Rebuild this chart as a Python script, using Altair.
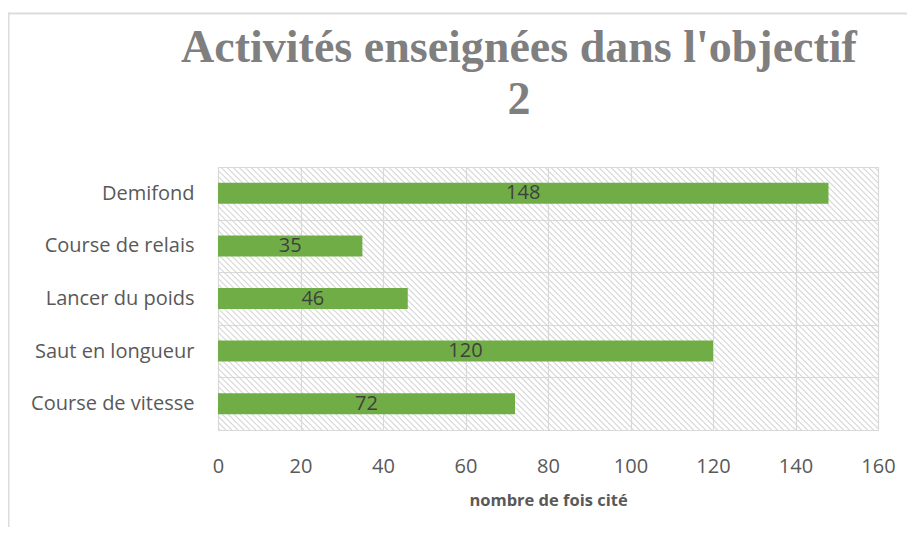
import altair as alt
import pandas as pd

# ---- data ----
categories = ["Demifond", "Course de relais", "Lancer du poids", "Saut en longueur", "Course de vitesse"]
values = [148, 35, 46, 120, 72]
x_ticks = [0, 20, 40, 60, 80, 100, 120, 140, 160]
title_lines = ["Activités enseignées dans l'objectif", "2"]
x_title = "nombre de fois cité"

df = pd.DataFrame({"activite": categories, "valeur": values})

W, H = 660, 263

base = alt.Chart(df)
one = pd.DataFrame({"k": [0]})

# ---- diagonal hatch of the plot background: one very wide dashed stroke, clipped ----
L = 560
hatch = alt.Chart(one).mark_rule(
    color="#d6d6d6", strokeWidth=1500, strokeDash=[1.1, 3.14], strokeCap="butt", clip=True
).encode(
    x=alt.value(W / 2 - L), y=alt.value(H / 2 + L), x2=alt.value(W / 2 + L), y2=alt.value(H / 2 - L)
)

bars = base.mark_bar(color="#70ad47", size=21).encode(
    x=alt.X(
        "valeur:Q",
        scale=alt.Scale(domain=[0, 160], nice=False),
        axis=alt.Axis(
            values=x_ticks,
            title=x_title,
            grid=True,
            ticks=False,
            domain=False,
            labelFlush=False,
            labelPadding=26,
            titlePadding=16,
        ),
    ),
    y=alt.Y(
        "activite:N",
        sort=categories,
        scale=alt.Scale(paddingInner=0, paddingOuter=0),
        axis=alt.Axis(
            title=None,
            grid=True,
            tickBand="extent",
            ticks=False,
            domain=False,
            labelPadding=24,
        ),
    ),
)

labels = base.transform_calculate(mid="datum.valeur / 2").mark_text(
    font="Open Sans", fontSize=20, color="#404040", align="center", baseline="middle"
).encode(
    x=alt.X("mid:Q", title=x_title),
    y=alt.Y("activite:N", sort=categories, title=None),
    text="valeur:Q",
)

title_mark = alt.Chart(one).mark_text(
    text=title_lines,
    font="Liberation Serif",
    fontSize=46,
    fontWeight="bold",
    color="#7f7f7f",
    lineHeight=52,
    align="center",
    baseline="alphabetic",
).encode(x=alt.value(W / 2 - 29), y=alt.value(-105))

frame_top = alt.Chart(one).mark_rule(color="#dcdcdc", strokeWidth=2).encode(
    x=alt.value(-211), x2=alt.value(720), y=alt.value(-153.5)
)
frame_left = alt.Chart(one).mark_rule(color="#dcdcdc", strokeWidth=2).encode(
    x=alt.value(-209.5), y=alt.value(-154.5), y2=alt.value(400)
)

chart = (
    alt.layer(hatch, bars, labels, title_mark, frame_top, frame_left)
    .properties(
        width=W,
        height=H,
        background="#ffffff",
        autosize=alt.AutoSizeParams(type="none"),
        padding={"left": 210, "top": 159, "right": 29, "bottom": 97},
    )
    .configure_view(stroke="#d9d9d9", strokeWidth=1, fill="#ffffff")
    .configure_axis(
        labelFont="Open Sans",
        labelFontSize=20,
        labelColor="#595959",
        gridColor="#d9d9d9",
        gridWidth=1.2,
        titleFont="Open Sans",
        titleFontSize=16.5,
        titleFontWeight="bold",
        titleColor="#595959",
    )
)

chart.save("out.html", embed_options={"renderer": "svg", "actions": False})
